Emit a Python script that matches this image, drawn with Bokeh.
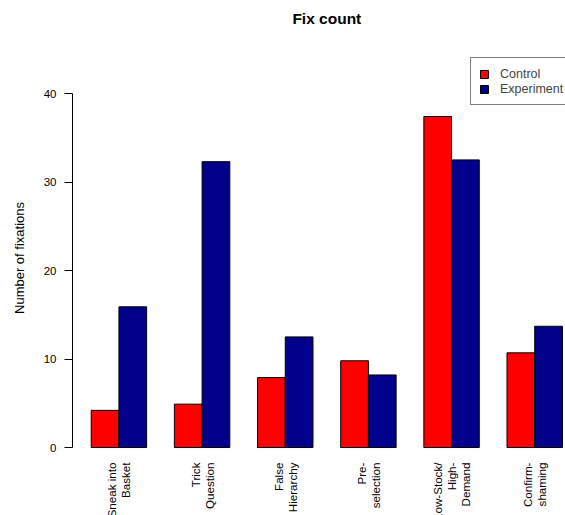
import numpy as np
from math import pi
from bokeh.plotting import figure
from bokeh.models import (Range1d, FixedTicker, ColumnDataSource, LabelSet, Label,
                          Legend, LegendItem)
from bokeh.core.properties import value
from bokeh.embed import file_html
from bokeh.resources import INLINE

# ---- data ----
categories = ["Sneak into\nBasket", "Trick\nQuestion", "False\nHierarchy",
              "Pre-\nselection", "Low-Stock/\nHigh-\nDemand", "Confirm-\nshaming"]
control = [4.2, 4.9, 7.9, 9.8, 37.4, 10.7]
experiment = [15.9, 32.3, 12.5, 8.2, 32.5, 13.7]
y_ticks = [0, 10, 20, 30, 40]
series_names = ["Control", "Experiment"]
series_colors = ["#FF0000", "#00008B"]
title_text = "Fix count"
y_label = "Number of fixations"

FONT = "Liberation Sans"

n = len(categories)
idx = np.arange(n)
ctrl_x = 1.5 + 3 * idx
exp_x = 2.5 + 3 * idx
centers = 2.0 + 3 * idx
x_lo, x_hi = 1.0, 3.0 * n          # R barplot extent (bars from 1 to 18)
x_mid = (x_lo + x_hi) / 2.0

X0, X1 = 0.325, 18.11
PLOT_W = 565 - 72
px_per_unit = PLOT_W / (X1 - X0)
LINE_PX = 14.0

p = figure(width=565, height=515, output_backend="svg", toolbar_location=None,
           x_range=Range1d(X0, X1), y_range=Range1d(-7.68, 50.51),
           min_border_left=72, min_border_right=0, min_border_top=0,
           min_border_bottom=0)

p.outline_line_color = None
p.xgrid.visible = False
p.ygrid.visible = False
p.xaxis.visible = False

ya = p.yaxis[0]
ya.ticker = FixedTicker(ticks=y_ticks)
ya.bounds = (min(y_ticks), max(y_ticks))
ya.major_tick_out = 8
ya.major_tick_in = 0
ya.minor_tick_line_color = None
ya.major_label_standoff = 8
ya.major_label_text_font = FONT
ya.major_label_text_font_size = "11.5px"
ya.major_label_text_color = "black"
ya.axis_line_color = "black"
ya.major_tick_line_color = "black"
ya.axis_label = y_label
ya.axis_label_text_font = FONT
ya.axis_label_text_font_size = "13px"
ya.axis_label_text_font_style = "normal"
ya.axis_label_text_color = "black"
ya.axis_label_standoff = 14

r1 = p.vbar(x=ctrl_x, top=control, bottom=0, width=1,
            fill_color=series_colors[0], line_color="black", line_width=1)
r2 = p.vbar(x=exp_x, top=experiment, bottom=0, width=1,
            fill_color=series_colors[1], line_color="black", line_width=1)

# category labels, one rotated line each, right-aligned toward the axis
lx, ly, lt = [], [], []
for c, cat in zip(centers, categories):
    lines = cat.split("\n")
    m = len(lines)
    for k, line in enumerate(lines):
        lx.append(c + (k - (m - 1) / 2.0) * LINE_PX / px_per_unit)
        ly.append(-1.7)
        lt.append(line)
lab_src = ColumnDataSource(dict(x=lx, y=ly, text=lt))
labels = LabelSet(x="x", y="y", text="text", source=lab_src, angle=pi / 2,
                  text_align="right", text_baseline="middle",
                  text_font=value(FONT), text_font_size=value("11.6px"),
                  text_color="black")
p.add_layout(labels)

title = Label(x=x_mid, y=48.47, text=title_text, text_align="center",
              text_baseline="middle", text_font=FONT, text_font_size="15.5px",
              text_font_style="bold", text_color="black")
p.add_layout(title)

legend = Legend(items=[LegendItem(label=series_names[0], renderers=[r1]),
                       LegendItem(label=series_names[1], renderers=[r2])],
                location=(398, 410), margin=0, padding=8, spacing=0,
                glyph_width=10, glyph_height=10, label_height=15,
                label_standoff=11, label_text_font=FONT,
                label_text_font_size="12.5px", label_text_baseline="middle",
                border_line_color="black", border_line_width=1,
                background_fill_alpha=1)
p.add_layout(legend)

open("out.html", "w").write(file_html(p, INLINE))
